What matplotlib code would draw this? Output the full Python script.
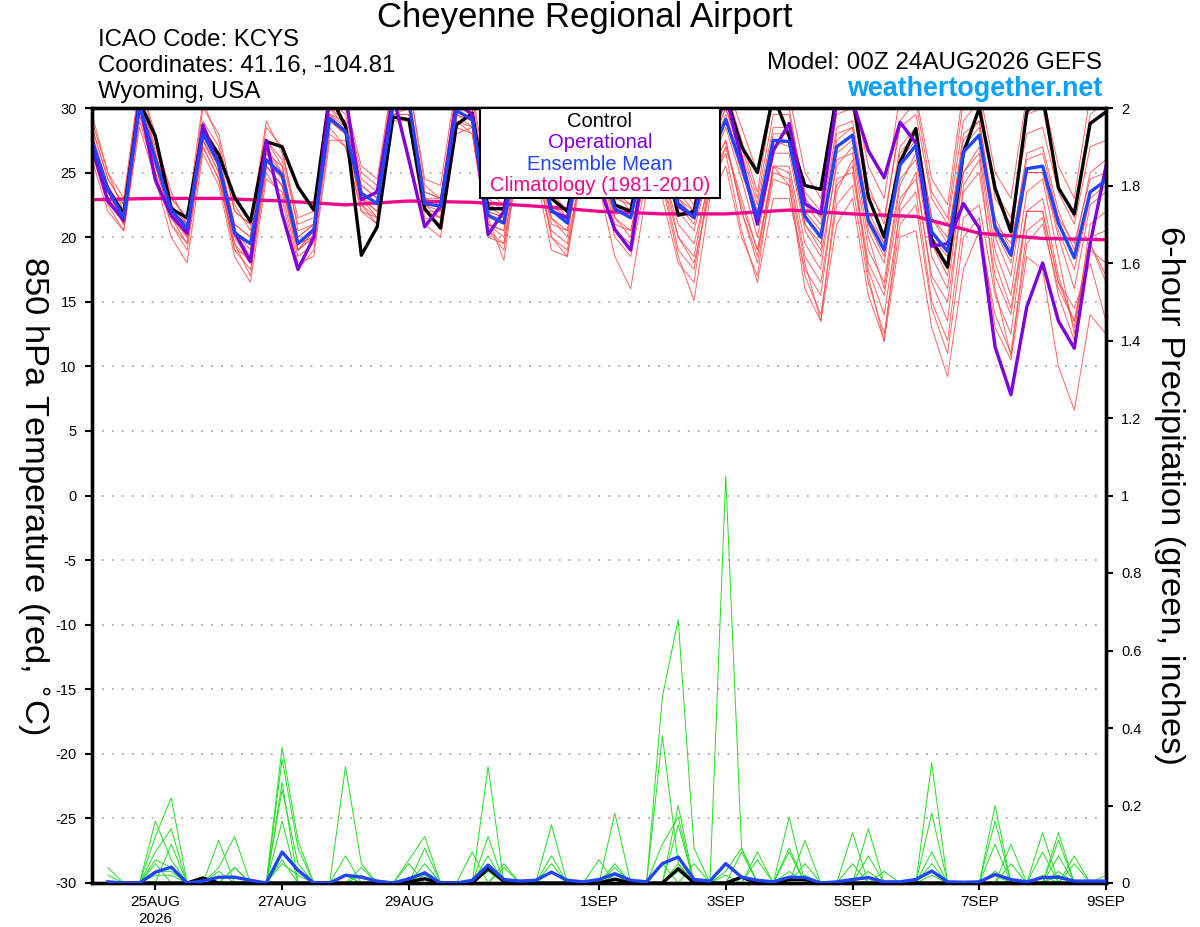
import numpy as np
import matplotlib
matplotlib.use('Agg')
import matplotlib.pyplot as plt
from matplotlib.patches import Rectangle

plt.rcParams['font.family'] = ['Liberation Sans', 'DejaVu Sans']
plt.rcParams['axes.unicode_minus'] = False

# 6-hourly steps from 00Z 24AUG2026 (in days)
steps = np.arange(65) * 0.25
precip_steps = steps[1:]
clim_days = np.arange(17)

# x tick positions (days after 24AUG) and labels
tick_days = [1, 3, 5, 8, 10, 12, 14, 16]
tick_labels = ['25AUG\n2026', '27AUG', '29AUG', '1SEP', '3SEP', '5SEP', '7SEP', '9SEP']

# 850 hPa temperature, deg C
control_t = [27.3, 23.7, 21.8, 30.5, 27.8, 22.2, 21.5, 28.3, 26.4, 23.1, 21.2, 27.4,
             27.0, 23.9, 22.1, 31.0, 28.6, 18.6, 20.8, 29.3, 29.1, 22.2, 20.7, 28.7,
             29.6, 22.2, 22.2, 28.5, 27.5, 23.0, 22.0, 28.0, 27.0, 22.5, 22.0, 28.0,
             27.0, 21.7, 22.0, 28.0, 31.0, 27.0, 25.0, 31.0, 27.8, 24.0, 23.7, 31.0,
             31.0, 23.1, 20.0, 25.8, 28.4, 19.8, 17.7, 26.5, 30.0, 23.8, 20.4, 29.7,
             31.0, 23.8, 21.8, 28.8, 29.7]
oper_t = [27.0, 22.8, 21.3, 30.5, 24.4, 21.7, 20.3, 28.7, 25.6, 20.4, 18.1, 27.5,
          21.8, 17.5, 20.0, 31.0, 31.0, 22.9, 23.5, 31.0, 26.0, 20.8, 22.4, 30.5,
          29.5, 20.2, 22.0, 28.0, 27.0, 22.0, 21.5, 27.5, 24.0, 20.6, 19.0, 27.0,
          26.0, 22.4, 21.6, 27.0, 31.0, 26.0, 21.0, 26.7, 28.8, 22.6, 21.8, 30.5,
          30.5, 26.7, 24.6, 28.9, 27.3, 19.3, 19.5, 22.6, 20.7, 11.5, 7.8, 14.6,
          18.0, 13.5, 11.4, 19.5, 25.5]
mean_t = [27.5, 23.7, 21.5, 30.2, 26.0, 22.1, 20.7, 28.0, 25.7, 20.3, 19.5, 26.0,
          24.8, 19.5, 20.6, 29.2, 28.2, 23.4, 22.6, 30.2, 30.5, 22.6, 22.4, 29.8,
          29.1, 21.7, 21.1, 28.0, 27.0, 22.1, 21.1, 27.5, 26.0, 22.2, 21.5, 27.0,
          26.5, 22.6, 21.5, 26.0, 29.1, 25.5, 21.5, 27.5, 27.4, 21.6, 20.0, 27.0,
          27.9, 21.3, 19.0, 25.6, 27.1, 20.4, 18.9, 26.6, 27.9, 20.8, 18.6, 25.3,
          25.5, 21.1, 18.4, 23.5, 24.4]
clim_t = [22.9, 23.0, 23.0, 22.8, 22.5, 22.8, 22.7, 22.4, 22.0, 21.8, 21.8, 22.1,
          21.8, 21.6, 20.3, 19.9, 19.8]

# ensemble members (temperature)
t_mem01 = [28.5, 24.5, 22.5, 31.0, 27.0, 23.0, 21.5, 29.0, 27.0, 22.0, 21.0, 27.5,
           26.0, 21.0, 21.5, 30.5, 29.5, 24.5, 23.5, 31.5, 31.0, 23.5, 23.0, 31.0,
           30.0, 23.0, 22.0, 30.0, 28.5, 23.5, 22.0, 29.0, 27.5, 23.5, 22.5, 28.5,
           28.0, 24.0, 23.0, 28.0, 30.5, 27.0, 23.0, 29.5, 29.5, 23.5, 22.0, 29.5,
           30.0, 23.5, 21.5, 28.5, 29.5, 23.0, 21.0, 29.0, 30.5, 23.5, 21.5, 28.0,
           28.5, 23.5, 21.0, 27.0, 27.5]
t_mem02 = [26.5, 22.5, 20.5, 29.0, 25.0, 21.0, 19.0, 27.0, 24.5, 19.0, 17.5, 25.0,
           23.0, 17.5, 19.0, 28.0, 27.0, 22.0, 21.0, 29.5, 29.5, 21.5, 21.0, 28.5,
           28.0, 20.0, 19.5, 27.0, 25.5, 20.5, 19.5, 26.0, 24.5, 20.5, 19.5, 25.0,
           24.5, 20.0, 18.0, 23.5, 27.0, 23.0, 19.0, 25.5, 25.0, 18.5, 16.5, 24.0,
           25.5, 18.0, 15.5, 23.0, 24.5, 17.0, 15.0, 23.5, 25.0, 17.0, 14.0, 22.0,
           22.0, 16.5, 13.5, 20.0, 20.5]
t_mem03 = [27.0, 24.0, 21.0, 30.5, 26.5, 22.5, 20.0, 28.5, 26.0, 20.5, 18.5, 26.5,
           25.0, 19.0, 20.0, 29.5, 28.5, 23.0, 22.0, 30.5, 30.5, 22.0, 21.5, 29.5,
           29.0, 21.0, 20.0, 28.0, 27.0, 21.5, 20.0, 27.5, 26.5, 21.5, 20.0, 26.5,
           25.5, 20.0, 18.5, 25.0, 27.5, 22.0, 18.0, 24.5, 24.0, 17.0, 14.0, 22.5,
           24.0, 16.5, 12.5, 21.0, 22.5, 14.5, 11.0, 20.0, 21.5, 13.0, 10.5, 18.5,
           17.5, 10.0, 6.6, 14.0, 12.5]
t_mem04 = [28.0, 23.0, 21.5, 30.0, 25.5, 21.5, 20.5, 27.5, 25.0, 19.5, 18.0, 25.5,
           24.0, 19.0, 20.0, 29.0, 28.0, 22.5, 21.5, 29.5, 30.0, 22.0, 22.0, 30.0,
           29.5, 21.0, 20.5, 28.5, 26.5, 21.0, 20.5, 27.0, 25.5, 21.0, 20.5, 26.0,
           25.0, 21.0, 19.5, 24.5, 27.0, 22.5, 19.0, 25.0, 24.5, 18.0, 13.5, 21.0,
           23.0, 15.5, 12.0, 20.0, 20.5, 13.0, 9.2, 17.5, 20.5, 14.0, 11.0, 19.5,
           21.0, 16.0, 13.5, 19.0, 18.0]
t_mem05 = [29.0, 25.0, 22.0, 32.0, 27.5, 23.5, 21.0, 30.0, 28.0, 22.5, 20.5, 28.5,
           27.0, 20.5, 21.0, 31.0, 30.0, 25.0, 24.0, 32.0, 32.0, 24.0, 23.0, 31.5,
           31.0, 22.5, 22.0, 30.5, 29.0, 23.0, 21.5, 30.0, 28.5, 23.5, 22.0, 29.5,
           29.0, 24.0, 22.5, 29.5, 31.5, 27.5, 23.5, 31.0, 30.0, 23.0, 21.5, 30.5,
           31.5, 24.0, 21.0, 29.0, 30.5, 23.5, 21.5, 30.5, 31.0, 23.0, 21.0, 29.5,
           30.0, 24.0, 21.5, 29.5, 30.5]
t_mem06 = [26.0, 22.0, 20.5, 28.5, 24.5, 20.0, 18.0, 26.5, 24.0, 18.5, 16.5, 24.5,
           23.5, 18.0, 18.5, 27.5, 27.5, 22.5, 21.0, 29.0, 29.0, 21.0, 20.0, 28.0,
           28.5, 21.5, 18.2, 27.0, 26.0, 20.0, 18.5, 26.5, 25.0, 20.5, 19.0, 25.5,
           24.0, 18.5, 15.1, 23.0, 25.5, 20.0, 17.0, 25.5, 24.0, 16.0, 13.5, 23.5,
           26.0, 17.0, 11.9, 22.5, 25.0, 16.5, 13.5, 24.0, 26.0, 16.0, 10.8, 20.5,
           21.5, 15.5, 12.0, 19.5, 16.5]
t_mem07 = [27.5, 24.0, 22.0, 31.0, 26.5, 22.5, 21.0, 28.5, 26.5, 21.0, 20.0, 27.0,
           25.0, 20.0, 21.0, 30.0, 28.5, 23.5, 22.5, 30.5, 31.0, 23.0, 22.5, 30.5,
           29.5, 22.0, 21.5, 28.5, 27.5, 22.5, 21.5, 28.0, 26.5, 22.5, 22.0, 28.0,
           27.5, 23.5, 22.0, 27.0, 30.0, 26.5, 22.5, 28.5, 28.5, 22.5, 21.0, 28.5,
           29.0, 22.0, 19.5, 27.0, 28.5, 21.5, 19.5, 28.0, 29.0, 21.5, 19.0, 26.5,
           27.0, 22.0, 19.0, 25.0, 26.0]
t_mem08 = [27.0, 23.5, 21.0, 30.0, 25.5, 21.5, 20.0, 27.5, 25.0, 19.0, 18.5, 25.5,
           24.0, 19.0, 20.5, 29.0, 28.0, 23.0, 22.0, 30.0, 30.0, 22.5, 22.0, 29.5,
           28.5, 21.0, 20.5, 27.5, 26.5, 21.5, 20.5, 27.0, 25.5, 21.5, 20.5, 26.0,
           26.0, 22.0, 20.5, 25.5, 28.5, 24.5, 20.0, 26.5, 26.5, 20.5, 18.5, 25.5,
           27.0, 20.0, 16.0, 24.0, 26.5, 19.5, 17.0, 25.0, 27.0, 19.0, 15.5, 23.5,
           24.5, 18.5, 12.5, 21.0, 22.0]
t_mem09 = [28.0, 24.0, 21.5, 30.5, 26.0, 22.0, 21.0, 28.0, 26.0, 20.5, 19.0, 26.5,
           25.5, 19.5, 20.0, 30.0, 29.0, 24.0, 23.0, 31.0, 30.5, 23.0, 23.0, 30.5,
           29.5, 22.5, 21.5, 28.5, 27.5, 22.0, 21.5, 27.5, 26.5, 22.5, 21.5, 27.5,
           27.0, 23.0, 21.5, 26.5, 29.5, 25.5, 21.0, 27.0, 27.5, 21.0, 19.0, 27.5,
           28.5, 20.5, 18.0, 26.0, 27.5, 19.5, 17.5, 27.0, 28.5, 20.0, 17.0, 25.0,
           25.0, 20.0, 16.0, 22.5, 23.5]
t_mem10 = [26.5, 23.0, 21.0, 29.5, 25.0, 21.0, 19.5, 27.0, 24.5, 19.5, 17.0, 25.5,
           24.0, 18.5, 19.5, 28.5, 27.0, 22.0, 21.5, 29.5, 29.5, 22.0, 21.5, 29.0,
           28.0, 20.5, 19.0, 26.5, 25.0, 19.0, 18.5, 25.5, 24.0, 18.5, 16.0, 23.5,
           23.0, 18.0, 16.5, 25.0, 27.5, 22.0, 18.5, 25.5, 25.5, 19.5, 17.5, 26.0,
           26.5, 19.0, 16.5, 24.5, 26.0, 18.5, 16.0, 25.0, 26.5, 18.0, 14.5, 22.0,
           23.0, 17.0, 13.0, 19.5, 17.0]
t_mem11 = [28.5, 24.5, 22.5, 31.5, 26.5, 22.0, 20.5, 28.5, 26.0, 21.0, 20.0, 27.5,
           25.5, 20.0, 21.0, 29.5, 29.0, 24.0, 23.0, 31.0, 30.5, 23.5, 23.0, 30.5,
           30.0, 22.0, 21.5, 29.0, 28.0, 23.0, 22.0, 28.5, 27.0, 23.0, 22.5, 28.0,
           27.0, 23.0, 22.0, 27.0, 30.0, 26.0, 22.0, 28.0, 28.0, 22.0, 20.5, 28.0,
           28.5, 21.5, 19.5, 26.5, 28.0, 21.5, 20.0, 27.5, 29.0, 21.0, 19.5, 26.0,
           26.5, 21.5, 19.5, 24.5, 25.0]
t_mem12 = [27.0, 23.5, 22.0, 30.0, 26.0, 22.5, 21.0, 28.0, 25.5, 20.5, 19.5, 26.0,
           24.5, 19.0, 20.5, 29.5, 28.0, 23.0, 22.5, 30.0, 30.0, 22.5, 22.5, 29.5,
           29.0, 21.5, 21.0, 28.0, 27.0, 22.0, 21.0, 27.5, 26.0, 22.0, 21.5, 27.0,
           26.5, 22.5, 21.0, 26.0, 29.0, 25.0, 21.5, 27.5, 27.0, 21.0, 19.5, 26.5,
           27.5, 21.0, 18.5, 25.5, 27.0, 20.0, 18.5, 26.5, 28.0, 20.5, 18.0, 25.0,
           25.0, 20.5, 17.5, 23.0, 24.0]
t_mem13 = [29.5, 25.0, 23.0, 32.0, 28.0, 23.0, 21.5, 30.5, 27.5, 22.0, 21.0, 29.0,
           26.5, 21.5, 22.0, 31.5, 30.5, 25.5, 24.5, 32.5, 32.0, 24.5, 24.0, 32.0,
           31.5, 23.5, 22.5, 31.0, 29.5, 24.0, 23.0, 30.5, 29.0, 24.0, 23.0, 30.0,
           30.5, 26.0, 24.0, 30.5, 32.0, 28.5, 25.0, 31.5, 31.0, 25.0, 23.0, 31.0,
           31.5, 25.5, 23.0, 31.0, 31.0, 24.5, 22.5, 31.5, 31.5, 25.0, 23.0, 31.0,
           31.0, 25.5, 23.0, 31.0, 31.0]
t_mem14 = [26.5, 23.0, 21.5, 29.5, 25.5, 21.5, 19.5, 27.5, 25.5, 20.0, 18.0, 26.0,
           25.0, 19.5, 20.0, 29.0, 28.0, 23.0, 21.5, 30.0, 30.0, 22.5, 21.5, 29.0,
           28.5, 20.5, 19.5, 27.0, 26.0, 20.0, 19.0, 26.0, 25.0, 20.0, 18.5, 24.5,
           24.5, 19.0, 17.5, 24.0, 26.5, 20.5, 16.5, 23.0, 23.0, 17.5, 15.5, 24.5,
           25.0, 17.5, 14.0, 22.0, 23.5, 15.0, 12.0, 21.5, 22.5, 15.5, 12.5, 22.0,
           22.0, 16.5, 14.5, 18.0, 13.5]

# 6-hour precipitation, inches (from 06Z 24AUG)
control_p = [0, 0, 0, 0, 0, 0, .013, 0, 0, 0, 0, 0, 0, 0, 0, 0,
             0, 0, 0, .003, .011, 0, 0, 0, .037, .005, 0, 0, 0, 0, 0, 0,
             .01, 0, 0, 0, .037, 0, 0, 0, .015, 0, 0, .009, .009, 0, 0, 0,
             0, 0, 0, 0, 0, 0, 0, 0, 0, 0, 0, 0, 0, 0, 0, 0]
mean_p = [.003, 0, 0, .028, .041, 0, .005, .015, .015, .007, 0, .08, .033, 0, 0, .02,
          .015, .005, 0, .011, .026, 0, 0, .007, .046, .009, .005, .007, .028, .007, .003, .009,
          .024, .007, .003, .05, .067, .009, .005, .05, .015, .007, .003, .015, .014, 0, .003, .009,
          .014, .003, .003, .009, .031, .003, .002, .003, .022, .009, .003, .014, .015, .005, .005, .005]

p_mem01 = [.04, 0, 0, .16, .06, 0, 0, 0, 0, 0, 0, .35, .11, 0, 0, .02,
           0, 0, 0, 0, .05, 0, 0, 0, .12, 0, 0, 0, .05, 0, 0, 0,
           .04, 0, 0, .48, .68, .09, 0, 0, 0, 0, 0, .08, 0, 0, 0, 0,
           .07, 0, 0, 0, .08, 0, 0, 0, .20, 0, 0, 0, .07, 0, 0, 0]
p_mem02 = [0, 0, 0, .12, .22, 0, 0, 0, .04, 0, 0, .32, .09, 0, 0, .30,
           .05, 0, 0, 0, 0, 0, 0, 0, .07, 0, 0, 0, 0, 0, 0, 0,
           .18, 0, 0, 0, .15, 0, 0, .03, .09, 0, 0, 0, 0, 0, 0, .05,
           0, 0, 0, 0, .18, 0, 0, 0, 0, .10, 0, .08, 0, .05, 0, 0]
p_mem03 = [0, 0, 0, .08, .14, 0, 0, .11, 0, 0, 0, .26, 0, 0, 0, .07,
           0, 0, 0, .06, .12, 0, 0, 0, .30, 0, 0, 0, .15, 0, 0, 0,
           0, 0, 0, .38, .05, 0, 0, 1.05, .09, 0, 0, .17, 0, 0, 0, 0,
           .14, 0, 0, 0, .31, 0, 0, 0, .16, 0, 0, 0, .13, 0, 0, 0]
p_mem04 = [0, 0, 0, 0, .10, 0, 0, .04, .12, 0, 0, .24, .05, 0, 0, 0,
           .04, 0, 0, 0, .09, 0, 0, .08, 0, .05, 0, 0, 0, 0, 0, .06,
           0, 0, 0, 0, .20, 0, 0, 0, .08, 0, 0, 0, .11, 0, 0, .13,
           0, 0, 0, 0, 0, 0, 0, 0, .10, 0, 0, .13, 0, .07, 0, 0]
p_mem05 = [.02, 0, 0, .06, .04, 0, 0, 0, 0, 0, 0, .16, 0, 0, 0, 0,
           0, 0, 0, .05, 0, 0, 0, 0, .05, 0, 0, 0, .07, 0, 0, 0,
           .05, 0, 0, .10, .17, 0, 0, 0, 0, .08, 0, 0, .05, 0, 0, 0,
           0, .03, 0, 0, 0, 0, 0, 0, 0, .05, 0, 0, .11, 0, 0, .02]
p_mem06 = [0, 0, 0, .05, 0, 0, 0, 0, .04, 0, 0, .08, .03, 0, 0, 0,
           0, 0, 0, 0, .03, 0, 0, 0, 0, .04, 0, 0, 0, 0, 0, 0,
           0, 0, 0, .05, 0, .05, 0, 0, 0, .06, 0, .09, 0, 0, 0, 0,
           0, 0, 0, 0, .05, 0, 0, 0, 0, 0, 0, 0, .03, 0, 0, 0]
p_mem07 = [0, 0, 0, .03, .03, 0, 0, .03, 0, 0, 0, .06, 0, 0, 0, .02,
           0, 0, 0, 0, 0, 0, 0, 0, .03, 0, 0, 0, .03, 0, 0, 0,
           .02, 0, 0, 0, .05, 0, 0, 0, 0, 0, 0, .03, 0, 0, 0, 0,
           .03, 0, 0, 0, 0, 0, 0, 0, .03, 0, 0, .02, 0, 0, 0, 0]
p_mem08 = [0, 0, 0, .02, .02, 0, 0, 0, 0, 0, 0, .05, .02, 0, 0, 0,
           .02, 0, 0, 0, .02, 0, 0, 0, .04, 0, 0, 0, 0, 0, 0, 0,
           0, 0, 0, 0, .03, 0, 0, .02, 0, 0, 0, 0, .02, 0, 0, 0,
           0, 0, 0, 0, .02, 0, 0, 0, .02, 0, 0, 0, .02, 0, 0, 0]

temp_members = [t_mem01, t_mem02, t_mem03, t_mem04, t_mem05, t_mem06, t_mem07,
                t_mem08, t_mem09, t_mem10, t_mem11, t_mem12, t_mem13, t_mem14]
precip_members = [p_mem01, p_mem02, p_mem03, p_mem04, p_mem05, p_mem06, p_mem07, p_mem08]

fig = plt.figure(figsize=(12, 9.27), dpi=100)
ax = fig.add_axes([92 / 1200, 44 / 927, 1014 / 1200, 775 / 927])

# dotted grid at the temperature ticks
for t in range(-25, 30, 5):
    ax.axhline(t, color='#aaaaaa', lw=1.3, ls=(0, (1, 4.5)), zorder=0)

for mem in temp_members:
    ax.plot(steps, mem, color='#ff4a4a', lw=0.7, alpha=0.85, zorder=1)

ax.plot(clim_days, clim_t, color='#f0088c', lw=2.4, zorder=3)
ax.plot(steps, control_t, color='black', lw=2.4, zorder=4)
ax.plot(steps, oper_t, color='#8000dc', lw=2.4, zorder=4)
ax.plot(steps, mean_t, color='#2244ff', lw=2.4, zorder=5)

ax.set_xlim(0, 16)
ax.set_ylim(-30, 30)
ax.set_yticks(range(-30, 31, 5))
ax.set_xticks(tick_days)
ax.set_xticklabels(tick_labels, fontsize=11)
ax.tick_params(axis='y', direction='out', length=5, width=1.5, labelsize=10.5, pad=6)
ax.tick_params(axis='x', direction='out', length=5, width=1.5, pad=4)
for sp in ax.spines.values():
    sp.set_linewidth(2.4)

# precipitation on the right axis
ax2 = ax.twinx()
for mem in precip_members:
    ax2.plot(precip_steps, mem, color='#22dd22', lw=0.7, zorder=1)
ax2.plot(precip_steps, control_p, color='black', lw=2.4, zorder=2)
ax2.plot(precip_steps, mean_p, color='#2244ff', lw=2.4, zorder=3)
ax2.set_ylim(0, 2)
ax2.set_xlim(0, 16)
ax2.set_yticks(np.arange(0, 2.01, 0.2))
ax2.set_yticklabels(['0', '0.2', '0.4', '0.6', '0.8', '1', '1.2', '1.4', '1.6', '1.8', '2'])
ax2.tick_params(axis='y', direction='out', length=5, width=1.5, labelsize=10.5, pad=6)
for sp in ax2.spines.values():
    sp.set_linewidth(2.4)

# legend box
ax2.add_patch(Rectangle((0.3826, 0.884), 0.2367, 0.116, transform=ax2.transAxes,
                        facecolor='white', edgecolor='black', lw=1.5, zorder=10, clip_on=False))
legend_items = [('Control', 'black'), ('Operational', '#8000dc'),
                ('Ensemble Mean', '#2244ff'), ('Climatology (1981-2010)', '#f0088c')]
for k, (txt, col) in enumerate(legend_items):
    fig.text(600 / 1200, 1 - (121.5 + k * 21.3) / 927, txt, color=col, fontsize=14.5,
             ha='center', va='center', zorder=11)

# header
fig.text(585 / 1200, 1 - 18 / 927, 'Cheyenne Regional Airport', fontsize=25, ha='center', va='center')
fig.text(98 / 1200, 1 - 40 / 927, 'ICAO Code: KCYS', fontsize=17.3, ha='left', va='center')
fig.text(98 / 1200, 1 - 66 / 927, 'Coordinates: 41.16, -104.81', fontsize=17.3, ha='left', va='center')
fig.text(98 / 1200, 1 - 92 / 927, 'Wyoming, USA', fontsize=17.3, ha='left', va='center')
fig.text(1102 / 1200, 1 - 63 / 927, 'Model: 00Z 24AUG2026 GEFS', fontsize=17.5, ha='right', va='center')
fig.text(1102 / 1200, 1 - 89 / 927, 'weathertogether.net', fontsize=19.4, fontweight='bold',
         color='#0aa0ff', ha='right', va='center')

# axis labels
fig.text(32 / 1200, 1 - 495 / 927, r'850 hPa Temperature (red, $^{\circ}$C)', fontsize=24.8,
         rotation=270, ha='center', va='center')
fig.text(1170 / 1200, 1 - 495 / 927, '6-hour Precipitation (green, inches)', fontsize=24.8,
         rotation=270, ha='center', va='center')

plt.savefig('out.png', dpi=100)
